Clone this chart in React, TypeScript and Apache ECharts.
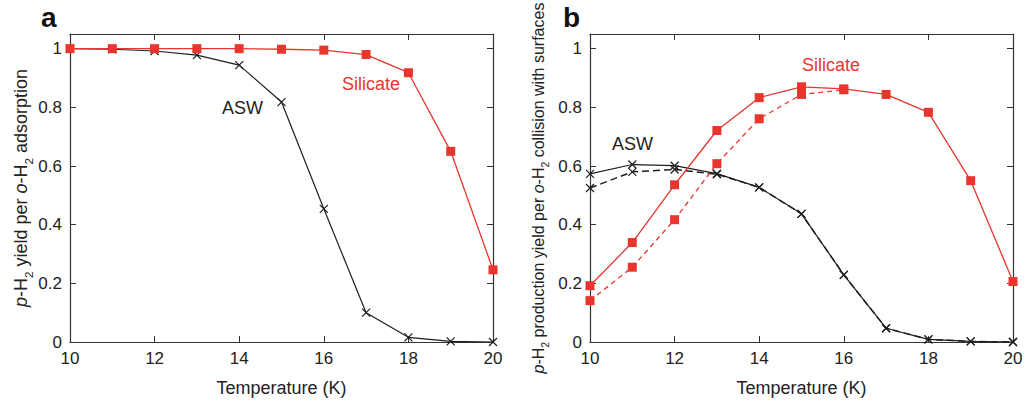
import React, { useEffect, useRef } from "react";
import * as echarts from "echarts";

// Temperatures (K)
const temps = [10, 11, 12, 13, 14, 15, 16, 17, 18, 19, 20];

// Panel a: p-H2 yield per o-H2 adsorption
const aSilicate = [1.0, 1.0, 1.0, 1.0, 1.0, 0.998, 0.995, 0.98, 0.918, 0.65, 0.246];
const aASW = [1.0, 0.998, 0.992, 0.978, 0.944, 0.818, 0.454, 0.1, 0.016, 0.002, 0.0];

// Panel b: p-H2 production yield per o-H2 collision with surfaces
const bSilicate = [0.192, 0.339, 0.536, 0.721, 0.833, 0.87, 0.863, 0.844, 0.783, 0.55, 0.206];
const bSilicateDashed = [0.141, 0.255, 0.417, 0.608, 0.761, 0.844, 0.86];
const bASW = [0.573, 0.605, 0.601, 0.574, 0.527, 0.437, 0.229, 0.047, 0.009, 0.002, 0.0];
const bASWDashed = [0.525, 0.58, 0.588, 0.572, 0.527, 0.437, 0.229, 0.047, 0.009, 0.002, 0.0];

const RED = "#e8352d";
const BLACK = "#1e1e1e";
const AXIS = "#333333";
const FONT = "Liberation Sans, Arial, sans-serif";
const CROSS = "path://M0,0L10,10M10,0L0,10";

const pairs = (ys: number[]) => ys.map((y, i) => [temps[i], y]);

const squareSeries = (xi: number, data: number[], dashed: boolean) => ({
  type: "line",
  xAxisIndex: xi,
  yAxisIndex: xi,
  data: pairs(data),
  symbol: "rect",
  symbolSize: 9,
  itemStyle: { color: RED },
  lineStyle: { color: RED, width: 1.3, type: dashed ? [5, 4] : "solid" },
  z: 3,
});

const crossSeries = (xi: number, data: number[], dashed: boolean) => ({
  type: "line",
  xAxisIndex: xi,
  yAxisIndex: xi,
  data: pairs(data),
  symbol: CROSS,
  symbolSize: 8,
  itemStyle: { color: "transparent", borderColor: BLACK, borderWidth: 1.2 },
  lineStyle: { color: BLACK, width: dashed ? 1.5 : 1.2, type: dashed ? [7, 4] : "solid" },
  z: 2,
});

const tickLabel = { fontFamily: FONT, fontSize: 17, color: "#222" };

const xAxes = (gi: number) => [
  {
    type: "value",
    gridIndex: gi,
    min: 10,
    max: 20,
    interval: 2,
    name: "Temperature (K)",
    nameLocation: "middle",
    nameGap: 37,
    nameTextStyle: { fontFamily: FONT, fontSize: 18, color: "#222" },
    axisLine: { show: true, onZero: false, lineStyle: { color: AXIS, width: 1.2 } },
    axisTick: { show: true, inside: true, length: 6, lineStyle: { color: AXIS } },
    axisLabel: { ...tickLabel, margin: 8 },
    splitLine: { show: false },
  },
  {
    type: "value",
    gridIndex: gi,
    position: "top",
    min: 10,
    max: 20,
    interval: 2,
    axisLine: { show: true, onZero: false, lineStyle: { color: AXIS, width: 1.2 } },
    axisTick: { show: true, inside: true, length: 6, lineStyle: { color: AXIS } },
    axisLabel: { show: false },
    splitLine: { show: false },
  },
];

const yAxes = (gi: number, name: string, fontSize: number, gap: number) => [
  {
    type: "value",
    gridIndex: gi,
    min: 0,
    max: 1.05,
    interval: 0.2,
    name,
    nameLocation: "middle",
    nameGap: gap,
    nameTextStyle: {
      fontFamily: FONT,
      fontSize,
      color: "#222",
      rich: {
        i: { fontFamily: FONT, fontSize, fontStyle: "italic", color: "#222" },
        s: {
          fontFamily: FONT,
          fontSize: fontSize * 0.65,
          color: "#222",
          verticalAlign: "bottom",
          lineHeight: fontSize * 0.65,
          padding: [0, 0, -4, 0],
        },
      },
    },
    axisLine: { show: true, onZero: false, lineStyle: { color: AXIS, width: 1.2 } },
    axisTick: { show: true, inside: true, length: 6, lineStyle: { color: AXIS } },
    axisLabel: { ...tickLabel, margin: 8, showMaxLabel: false },
    splitLine: { show: false },
  },
  {
    type: "value",
    gridIndex: gi,
    position: "right",
    min: 0,
    max: 1.05,
    interval: 0.2,
    axisLine: { show: true, onZero: false, lineStyle: { color: AXIS, width: 1.2 } },
    axisTick: { show: true, inside: true, length: 6, lineStyle: { color: AXIS } },
    axisLabel: { show: false },
    splitLine: { show: false },
  },
];

const annotation = (x: number, y: number, text: string, color: string, size = 18, bold = false) => ({
  type: "text",
  x,
  y,
  style: {
    text,
    fill: color,
    fontFamily: FONT,
    fontSize: size,
    fontWeight: bold ? "bold" : "normal",
  },
});

export default function App() {
  const ref = useRef<HTMLDivElement>(null);

  useEffect(() => {
    if (!ref.current) return;
    const chart = echarts.init(ref.current, undefined, { renderer: "svg" });
    const xa = xAxes(0);
    const xb = xAxes(1);
    const ya = yAxes(0, "{i|p}-H{s|2} yield per {i|o}-H{s|2} adsorption", 18, 40);
    const yb = yAxes(1, "{i|p}-H{s|2} production yield per {i|o}-H{s|2} collision with surfaces", 16, 44);
    chart.setOption({
      animation: false,
      backgroundColor: "#ffffff",
      grid: [
        { left: 70, right: 534, top: 34, bottom: 62 },
        { left: 590, right: 14, top: 34, bottom: 62 },
      ],
      // axis index layout: 0 = a bottom, 1 = a top, 2 = b bottom, 3 = b top
      xAxis: [xa[0], xa[1], xb[0], xb[1]],
      yAxis: [ya[0], ya[1], yb[0], yb[1]],
      series: [
        crossSeries(0, aASW, false),
        squareSeries(0, aSilicate, false),
        { ...crossSeries(2, bASWDashed, true) },
        { ...crossSeries(2, bASW, false) },
        { ...squareSeries(2, bSilicateDashed, true) },
        { ...squareSeries(2, bSilicate, false) },
      ],
      graphic: [
        annotation(41, 3, "a", "#111", 28, true),
        annotation(563, 3, "b", "#111", 28, true),
        annotation(222, 99, "ASW", "#222"),
        annotation(342, 75, "Silicate", RED),
        annotation(612, 135, "ASW", "#222"),
        annotation(802, 56, "Silicate", RED),
      ],
    });
    return () => chart.dispose();
  }, []);

  return <div ref={ref} style={{ width: 1027, height: 404, position: "absolute", left: 0, top: 0 }} />;
}
